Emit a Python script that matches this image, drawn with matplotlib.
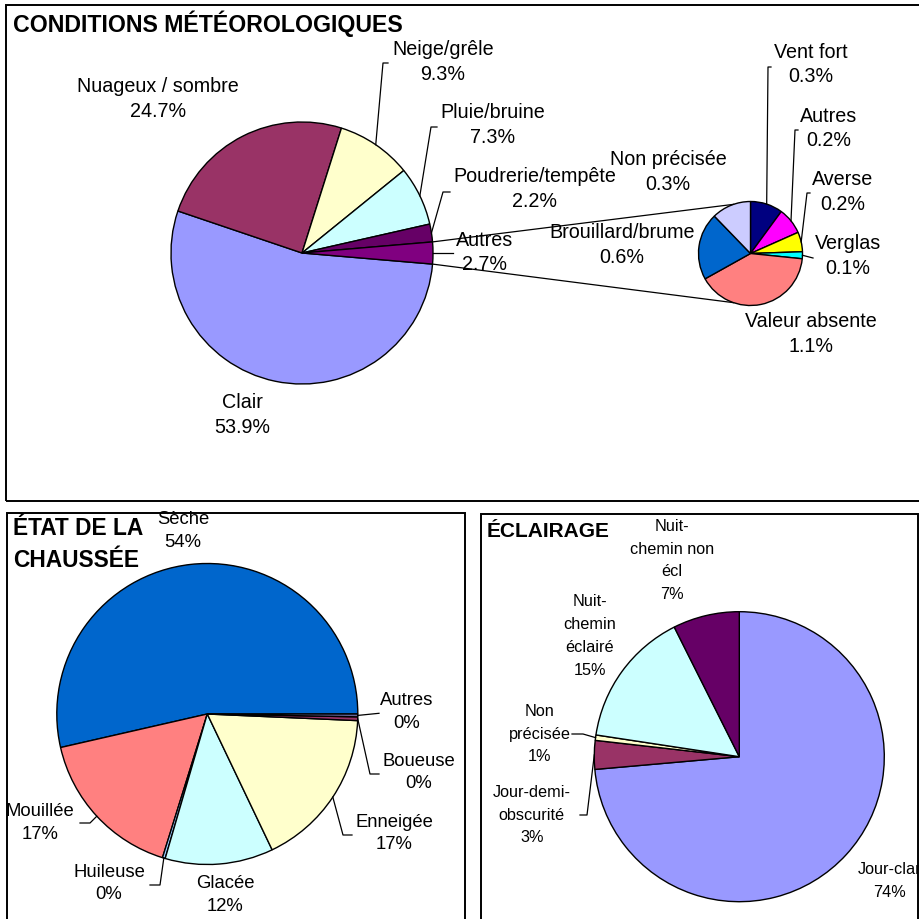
import matplotlib
matplotlib.use("Agg")
import matplotlib.pyplot as plt
import numpy as np
from matplotlib.patches import Rectangle

W, H = 920, 919

# --- data -----------------------------------------------------------------
METEO_LABELS = ["Clair", "Nuageux / sombre", "Neige/grêle", "Pluie/bruine",
                "Poudrerie/tempête", "Autres"]
METEO_VALUES = [53.9, 24.7, 9.3, 7.3, 2.2, 2.7]
METEO_COLORS = ["#9999FF", "#993366", "#FFFFCC", "#CCFFFF", "#660066", "#800080"]

AUTRES_LABELS = ["Vent fort", "Autres", "Averse", "Verglas", "Valeur absente",
                 "Brouillard/brume", "Non précisée"]
AUTRES_VALUES = [0.28, 0.23, 0.17, 0.06, 1.12, 0.58, 0.34]
AUTRES_COLORS = ["#000080", "#FF00FF", "#FFFF00", "#00FFFF", "#FF8080",
                 "#0066CC", "#CCCCFF"]

CHAUSSEE_LABELS = ["Sèche", "Mouillée", "Huileuse", "Glacée", "Enneigée",
                   "Boueuse", "Autres"]
CHAUSSEE_VALUES = [53.55, 16.6, 0.3, 11.6, 17.2, 0.4, 0.3]
CHAUSSEE_COLORS = ["#0066CC", "#FF8080", "#99CCFF", "#CCFFFF", "#FFFFCC",
                   "#993366", "#666699"]

ECLAIRAGE_LABELS = ["Jour-clar", "Jour-demi-\nobscurité", "Non\nprécisée",
                    "Nuit-\nchemin\néclairé", "Nuit-\nchemin non\nécl"]
ECLAIRAGE_VALUES = [73.6, 3.2, 0.6, 15.2, 7.4]
ECLAIRAGE_COLORS = ["#9999FF", "#993366", "#FFFFCC", "#CCFFFF", "#660066"]


def fy(y):
    """image y (down) -> axes y (up)"""
    return H - y


def draw_pie(ax, values, colors, center, radius, startangle, counterclock):
    wedges, _ = ax.pie(values, colors=colors, center=(center[0], fy(center[1])),
                       radius=radius, startangle=startangle, counterclock=counterclock,
                       wedgeprops=dict(edgecolor="black", linewidth=1.0))
    return wedges


def point_at(wedge, angle_deg):
    cx, cy = wedge.center
    a = np.deg2rad(angle_deg)
    return cx + wedge.r * np.cos(a), cy + wedge.r * np.sin(a)


def leader(ax, wedge, elbows):
    x0, y0 = point_at(wedge, (wedge.theta1 + wedge.theta2) / 2)
    xs = [x0] + [e[0] for e in elbows]
    ys = [y0] + [fy(e[1]) for e in elbows]
    ax.plot(xs, ys, color="black", lw=0.9)


def label(ax, frame, x, y, text, size, spacing=1.2, **kw):
    t = ax.text(x, fy(y), text, ha="center", va="center", fontsize=size,
                multialignment="center", linespacing=spacing, **kw)
    t.set_clip_path(frame)
    return t


def panel(ax, x0, y0, x1, y1):
    rect = Rectangle((x0, fy(y1)), x1 - x0, y1 - y0, fill=False,
                     edgecolor="black", linewidth=1.4, zorder=5)
    ax.add_patch(rect)
    return rect


def draw_meteo(ax):
    frame = panel(ax, 6.5, 5, 930, 501)
    total = sum(METEO_VALUES)
    wedges = draw_pie(ax, METEO_VALUES, METEO_COLORS, (302, 253), 131,
                      startangle=-METEO_VALUES[-1] / total * 180, counterclock=False)
    sub = draw_pie(ax, AUTRES_VALUES, AUTRES_COLORS, (750.5, 253.5), 52,
                   startangle=90, counterclock=False)

    # pie-of-pie connectors
    autres = wedges[-1]
    ends = sorted([point_at(autres, autres.theta1), point_at(autres, autres.theta2)],
                  key=lambda p: p[1])
    lo_sub = point_at(sub[0], 251)
    hi_sub = point_at(sub[0], 109)
    ax.plot([ends[1][0], hi_sub[0]], [ends[1][1], hi_sub[1]], color="black", lw=0.9)
    ax.plot([ends[0][0], lo_sub[0]], [ends[0][1], lo_sub[1]], color="black", lw=0.9)

    txt = [f"{n}\n{v:.1f}%" for n, v in zip(METEO_LABELS, METEO_VALUES)]
    pos = [(242, 415), (158, 99), (443, 62), (493, 125), (535, 189), (485, 252.5)]
    for t, (x, y) in zip(txt, pos):
        label(ax, frame, x, y, t, 14.2, spacing=1.38)
    leader(ax, wedges[2], [(383, 63), (388, 63)])
    leader(ax, wedges[3], [(431, 127), (437, 127)])
    leader(ax, wedges[4], [(443, 192), (450, 192)])
    leader(ax, wedges[5], [(453, 253)])

    txt = [f"{n}\n{v:.1f}%" for n, v in zip(AUTRES_LABELS, AUTRES_VALUES)]
    pos = [(811, 64.5), (829, 128.5), (843, 192), (848, 256), (811, 334),
           (622, 245), (668, 172)]
    for t, (x, y) in zip(txt, pos):
        label(ax, frame, x, y, t, 14.2, spacing=1.38)
    leader(ax, sub[0], [(768, 67), (771, 67)])
    leader(ax, sub[1], [(795, 130), (798, 130)])
    leader(ax, sub[2], [(807, 193), (810, 193)])
    leader(ax, sub[3], [(813, 258)])

    t = ax.text(13, fy(24), "CONDITIONS MÉTÉOROLOGIQUES", ha="left", va="center",
                fontsize=16.7, fontweight="bold")
    t.set_clip_path(frame)


def draw_chaussee(ax):
    frame = panel(ax, 7.5, 512.5, 465.5, 930)
    wedges = draw_pie(ax, CHAUSSEE_VALUES, CHAUSSEE_COLORS, (207.3, 714), 150.5,
                      startangle=0, counterclock=True)
    txt = [f"{n}\n{v:.0f}%" for n, v in zip(CHAUSSEE_LABELS, CHAUSSEE_VALUES)]
    pos = [(183, 531), (40, 823), (109, 883.5), (225, 895), (394, 833.5),
           (419, 772.5), (407, 712)]
    for t, (x, y) in zip(txt, pos):
        label(ax, frame, x, y, t, 13.3, spacing=1.45)
    leader(ax, wedges[1], [(90, 823), (80, 823)])
    leader(ax, wedges[2], [(160, 885), (150, 885)])
    leader(ax, wedges[4], [(343, 835), (352, 835)])
    leader(ax, wedges[5], [(370, 774), (379, 774)])
    leader(ax, wedges[6], [(379, 713.3)])

    t = ax.text(13, fy(544.5), "ÉTAT DE LA\nCHAUSSÉE", ha="left", va="center",
                fontsize=16.4, fontweight="bold", linespacing=1.45)
    t.set_clip_path(frame)


def draw_eclairage(ax):
    frame = panel(ax, 481, 514, 918, 930)
    wedges = draw_pie(ax, ECLAIRAGE_VALUES, ECLAIRAGE_COLORS, (739.3, 756.7), 145,
                      startangle=90, counterclock=False)
    txt = [f"{n}\n{v:.0f}%" for n, v in zip(ECLAIRAGE_LABELS, ECLAIRAGE_VALUES)]
    pos = [(890, 881), (531.7, 815), (540, 734), (590, 636), (671.7, 560.5)]
    for t, (x, y) in zip(txt, pos):
        label(ax, frame, x, y, t, 11.7, spacing=1.65)
    leader(ax, wedges[1], [(587, 815), (580, 815)])
    leader(ax, wedges[2], [(583, 734), (572, 734)])

    t = ax.text(487, fy(531.7), "ÉCLAIRAGE", ha="left", va="center",
                fontsize=15, fontweight="bold")
    t.set_clip_path(frame)


def main() -> None:
    plt.rcParams["font.family"] = ["Liberation Sans", "DejaVu Sans"]
    fig = plt.figure(figsize=(W / 100, H / 100), dpi=100)
    ax = fig.add_axes([0, 0, 1, 1])

    draw_meteo(ax)
    draw_chaussee(ax)
    draw_eclairage(ax)

    ax.set_xlim(0, W)
    ax.set_ylim(0, H)
    ax.set_aspect("auto")
    ax.axis("off")
    fig.savefig("out.png", dpi=100, facecolor="white")
    plt.close(fig)


if __name__ == "__main__":
    main()
